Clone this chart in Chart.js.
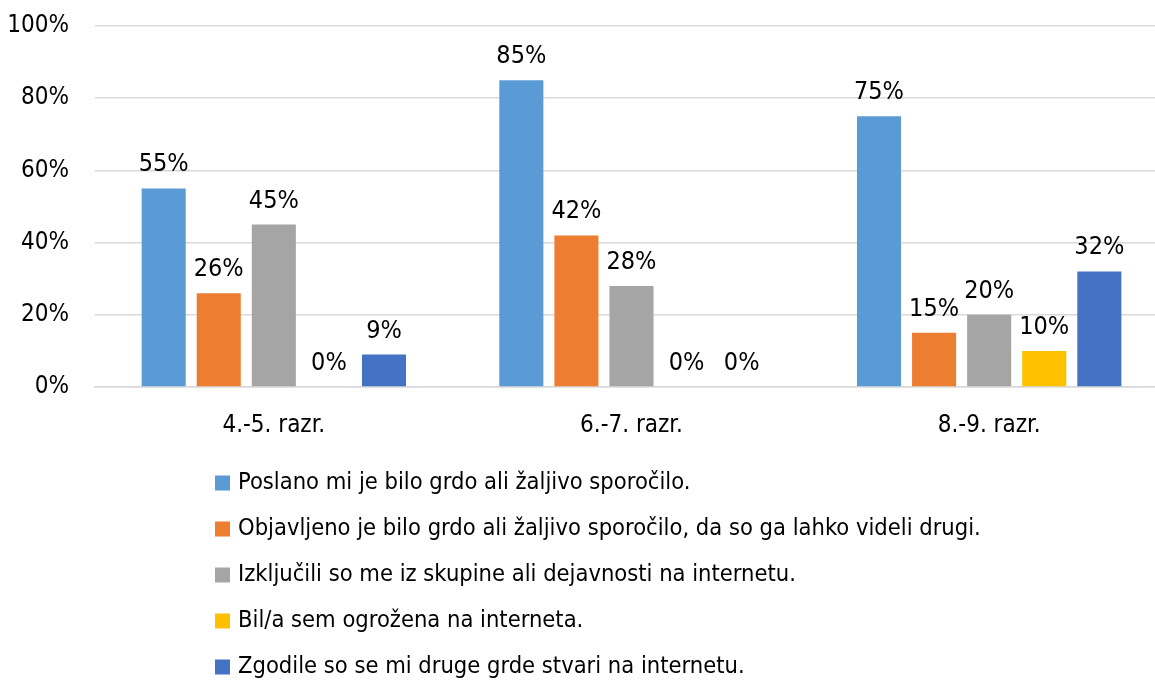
<!DOCTYPE html>
<html>
<head>
<meta charset="utf-8">
<script src="https://cdn.jsdelivr.net/npm/chart.js@4.4.1/dist/chart.umd.min.js"></script>
<style>
  html, body { margin: 0; padding: 0; background: #fff; overflow: hidden; }
  #wrap { width: 1168px; height: 691px; }
</style>
</head>
<body>
<div id="wrap"><canvas id="grafik"></canvas></div>
<script>
const razredi = ['4.-5. razr.', '6.-7. razr.', '8.-9. razr.'];
const serije = [
  'Poslano mi je bilo grdo ali žaljivo sporočilo.',
  'Objavljeno je bilo grdo ali žaljivo sporočilo, da so ga lahko videli drugi.',
  'Izključili so me iz skupine ali dejavnosti na internetu.',
  'Bil/a sem ogrožena na interneta.',
  'Zgodile so se mi druge grde stvari na internetu.'
];
const poslano = [55, 85, 75];
const objavljeno = [26, 42, 15];
const izkljucili = [45, 28, 20];
const ogrozena = [0, 0, 10];
const druge = [9, 0, 32];
const yTicks = [0, 20, 40, 60, 80, 100];

const barve = ['#5B9BD5', '#ED7D31', '#A5A5A5', '#FFC000', '#4472C4'];
const vrednosti = [poslano, objavljeno, izkljucili, ogrozena, druge];
const pisava = '"Liberation Sans Narrow", "Arial Narrow", "DejaVu Sans Condensed", sans-serif';

// oznake nad stolpci
const oznake = {
  id: 'oznake',
  afterDatasetsDraw(chart) {
    const ctx = chart.ctx;
    ctx.save();
    ctx.font = '25px ' + pisava;
    ctx.fillStyle = '#000';
    ctx.textAlign = 'center';
    ctx.textBaseline = 'alphabetic';
    chart.data.datasets.forEach((ds, i) => {
      chart.getDatasetMeta(i).data.forEach((bar, j) => {
        ctx.fillText(ds.data[j] + '%', bar.x, bar.y - 17);
      });
    });
    ctx.restore();
  }
};

// legenda pod grafom, ena pod drugo
const legenda = {
  id: 'legenda',
  afterDraw(chart) {
    const ctx = chart.ctx;
    const top = chart.chartArea.bottom;
    ctx.save();
    ctx.font = '23.5px ' + pisava;
    ctx.textBaseline = 'middle';
    chart.data.datasets.forEach((ds, i) => {
      const y = top + 96 + i * 46;
      ctx.fillStyle = ds.backgroundColor;
      ctx.fillRect(215, y - 7.5, 15, 15);
      ctx.fillStyle = '#000';
      ctx.fillText(ds.label, 238, y);
    });
    ctx.restore();
  }
};

new Chart(document.getElementById('grafik'), {
  type: 'bar',
  data: {
    labels: razredi,
    datasets: serije.map((s, i) => ({
      label: s,
      data: vrednosti[i],
      backgroundColor: barve[i],
      barPercentage: 0.8,
      categoryPercentage: 0.77
    }))
  },
  options: {
    responsive: true,
    maintainAspectRatio: false,
    animation: false,
    layout: { padding: { top: 26, bottom: 244, left: 0, right: 0 } },
    plugins: {
      legend: { display: false },
      tooltip: { enabled: false }
    },
    scales: {
      x: {
        grid: { display: false, drawTicks: false },
        border: { color: '#D9D9D9', width: 1.5 },
        ticks: { color: '#000', font: { family: pisava, size: 24 }, padding: 24 },
        afterFit: s => { s.height = 60; s.paddingLeft = 0; s.paddingRight = 0; }
      },
      y: {
        min: 0,
        max: 100,
        afterBuildTicks: s => { s.ticks = yTicks.map(v => ({ value: v })); },
        grid: { color: '#D9D9D9', lineWidth: 1.5, drawTicks: false },
        border: { display: false },
        ticks: { color: '#000', font: { family: pisava, size: 24 }, padding: 26, callback: v => v + '%' },
        afterFit: s => { s.width = 95; s.paddingTop = 0; s.paddingBottom = 0; }
      }
    }
  },
  plugins: [oznake, legenda]
});
</script>
</body>
</html>
